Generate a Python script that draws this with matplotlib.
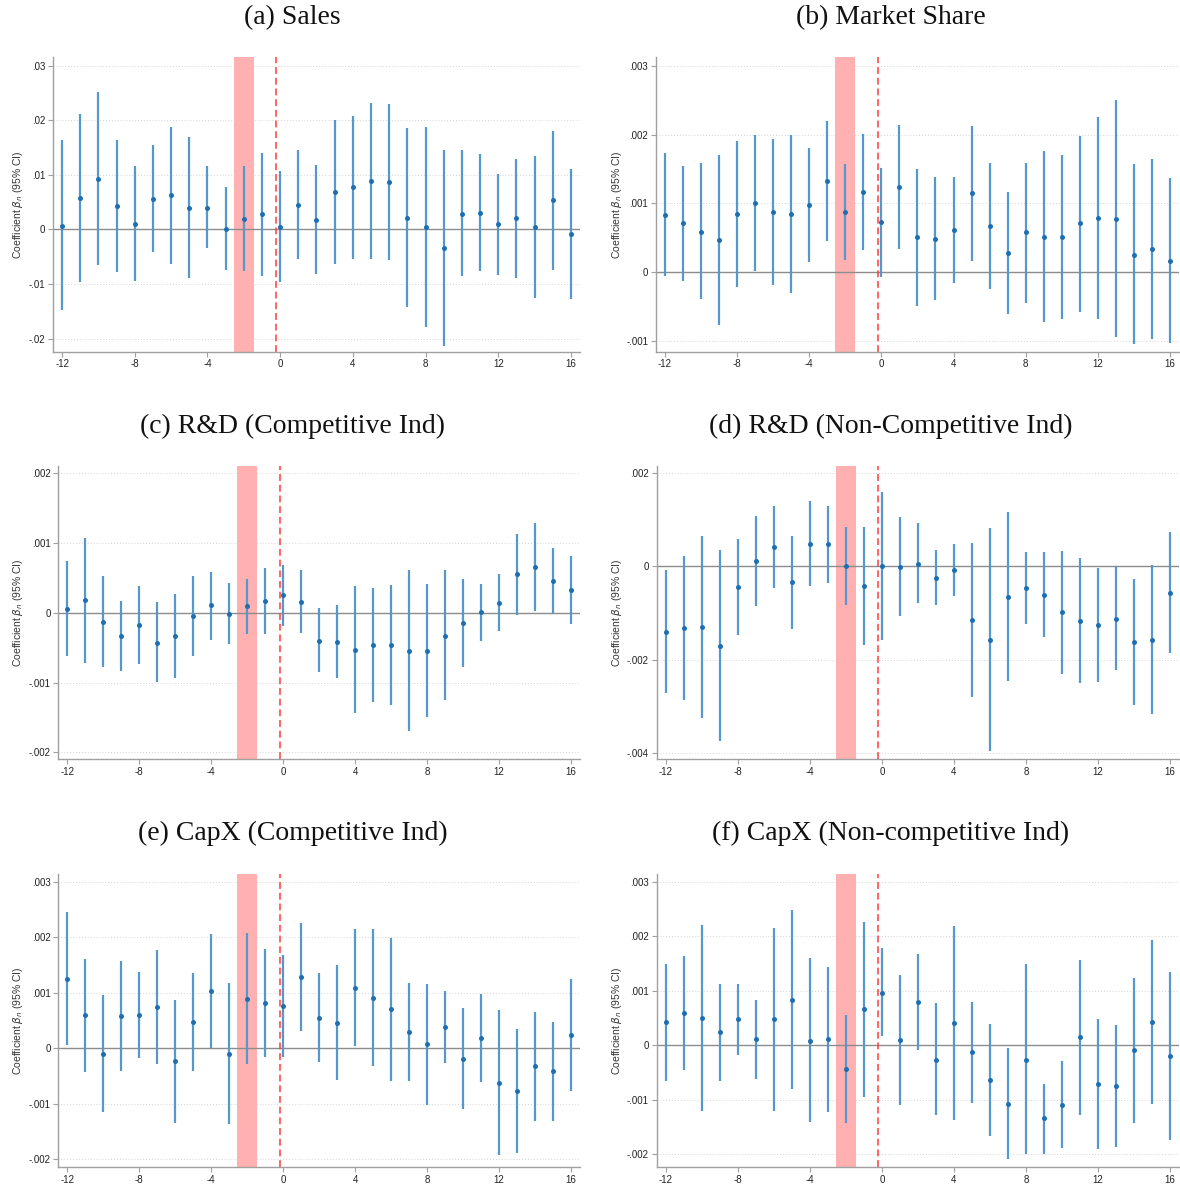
import numpy as np
import matplotlib
matplotlib.use('Agg')
import matplotlib.pyplot as plt


plt.rcParams['font.family'] = ['Liberation Sans', 'DejaVu Sans']
plt.rcParams['mathtext.fontset'] = 'dejavusans'

periods = list(range(-12, 17))
xtick_vals = [-12, -8, -4, 0, 4, 8, 12, 16]

# (a) Sales
coef_a = [0.0007, 0.0057, 0.0093, 0.0042, 0.0010, 0.0056, 0.0063, 0.0040, 0.0040, 0.0000,
          0.0019, 0.0028, 0.0005, 0.0045, 0.0018, 0.0069, 0.0077, 0.0088, 0.0087, 0.0021,
          0.0004, -0.0034, 0.0029, 0.0030, 0.0009, 0.0020, 0.0004, 0.0053, -0.0009]
hi_a = [0.0163, 0.0212, 0.0252, 0.0163, 0.0116, 0.0154, 0.0188, 0.0170, 0.0116, 0.0077,
        0.0116, 0.0140, 0.0107, 0.0146, 0.0117, 0.0201, 0.0208, 0.0231, 0.0229, 0.0185,
        0.0187, 0.0145, 0.0145, 0.0138, 0.0101, 0.0129, 0.0134, 0.0180, 0.0110]
lo_a = [-0.0147, -0.0097, -0.0066, -0.0078, -0.0095, -0.0041, -0.0063, -0.0089, -0.0035, -0.0075,
        -0.0077, -0.0085, -0.0096, -0.0055, -0.0081, -0.0063, -0.0054, -0.0055, -0.0056, -0.0143,
        -0.0179, -0.0214, -0.0086, -0.0077, -0.0083, -0.0089, -0.0126, -0.0074, -0.0128]

# (b) Market Share
coef_b = [0.00084, 0.00072, 0.00059, 0.00047, 0.00085, 0.00101, 0.00087, 0.00085, 0.00098, 0.00132,
          0.00088, 0.00116, 0.00073, 0.00124, 0.00051, 0.00049, 0.00061, 0.00115, 0.00068, 0.00028,
          0.00058, 0.00052, 0.00052, 0.00071, 0.00079, 0.00078, 0.00026, 0.00034, 0.00017]
hi_b = [0.00173, 0.00155, 0.00159, 0.00171, 0.00191, 0.00199, 0.00193, 0.00199, 0.00180, 0.00219,
        0.00158, 0.00201, 0.00151, 0.00214, 0.00150, 0.00139, 0.00138, 0.00212, 0.00159, 0.00116,
        0.00159, 0.00176, 0.00170, 0.00198, 0.00226, 0.00250, 0.00157, 0.00164, 0.00137]
lo_b = [-0.00005, -0.00012, -0.00039, -0.00076, -0.00021, 0.00002, -0.00018, -0.00030, 0.00015, 0.00045,
        0.00018, 0.00032, -0.00007, 0.00034, -0.00049, -0.00040, -0.00015, 0.00017, -0.00024, -0.00061,
        -0.00045, -0.00072, -0.00067, -0.00057, -0.00067, -0.00094, -0.00104, -0.00096, -0.00102]

# (c) R&D, competitive industries
coef_c = [0.00006, 0.00018, -0.00013, -0.00033, -0.00017, -0.00043, -0.00033, -0.00004, 0.00011, -0.00001,
          0.00010, 0.00017, 0.00025, 0.00016, -0.00040, -0.00042, -0.00053, -0.00046, -0.00046, -0.00055,
          -0.00054, -0.00033, -0.00014, 0.00001, 0.00014, 0.00055, 0.00066, 0.00045, 0.00033]
hi_c = [0.00074, 0.00107, 0.00053, 0.00017, 0.00038, 0.00015, 0.00027, 0.00053, 0.00059, 0.00043,
        0.00049, 0.00064, 0.00069, 0.00061, 0.00007, 0.00011, 0.00038, 0.00036, 0.00040, 0.00061,
        0.00042, 0.00061, 0.00049, 0.00042, 0.00055, 0.00113, 0.00129, 0.00093, 0.00081]
lo_c = [-0.00062, -0.00072, -0.00078, -0.00083, -0.00073, -0.00099, -0.00094, -0.00062, -0.00039, -0.00044,
        -0.00030, -0.00030, -0.00019, -0.00029, -0.00085, -0.00093, -0.00144, -0.00128, -0.00132, -0.00170,
        -0.00150, -0.00125, -0.00078, -0.00040, -0.00026, -0.00003, 0.00002, -0.00002, -0.00016]

# (d) R&D, non-competitive industries
coef_d = [-0.00140, -0.00133, -0.00131, -0.00170, -0.00044, 0.00011, 0.00041, -0.00034, 0.00049, 0.00047,
          0.00001, -0.00042, 0.00001, -0.00001, 0.00006, -0.00024, -0.00008, -0.00115, -0.00157, -0.00065,
          -0.00047, -0.00061, -0.00099, -0.00117, -0.00125, -0.00112, -0.00162, -0.00157, -0.00057]
hi_d = [-0.00008, 0.00022, 0.00065, 0.00034, 0.00058, 0.00107, 0.00130, 0.00065, 0.00140, 0.00129,
        0.00085, 0.00085, 0.00160, 0.00105, 0.00092, 0.00034, 0.00047, 0.00050, 0.00082, 0.00117,
        0.00030, 0.00030, 0.00033, 0.00017, -0.00003, -0.00001, -0.00028, 0.00003, 0.00073]
lo_d = [-0.00271, -0.00287, -0.00326, -0.00374, -0.00147, -0.00085, -0.00047, -0.00134, -0.00042, -0.00035,
        -0.00082, -0.00168, -0.00157, -0.00107, -0.00079, -0.00083, -0.00063, -0.00281, -0.00396, -0.00247,
        -0.00123, -0.00151, -0.00230, -0.00250, -0.00248, -0.00223, -0.00297, -0.00316, -0.00185]

# (e) CapX, competitive industries
coef_e = [0.00125, 0.00059, -0.00010, 0.00058, 0.00060, 0.00074, -0.00023, 0.00047, 0.00103, -0.00010,
          0.00089, 0.00081, 0.00075, 0.00128, 0.00055, 0.00046, 0.00108, 0.00091, 0.00070, 0.00029,
          0.00007, 0.00038, -0.00019, 0.00018, -0.00062, -0.00077, -0.00033, -0.00042, 0.00023]
hi_e = [0.00245, 0.00161, 0.00096, 0.00156, 0.00137, 0.00177, 0.00086, 0.00135, 0.00205, 0.00118,
        0.00208, 0.00179, 0.00168, 0.00225, 0.00135, 0.00149, 0.00214, 0.00214, 0.00199, 0.00118,
        0.00116, 0.00102, 0.00073, 0.00097, 0.00069, 0.00034, 0.00065, 0.00047, 0.00124]
lo_e = [0.00005, -0.00043, -0.00115, -0.00041, -0.00017, -0.00029, -0.00134, -0.00042, 0.00001, -0.00136,
        -0.00029, -0.00016, -0.00016, 0.00031, -0.00025, -0.00057, 0.00003, -0.00032, -0.00060, -0.00059,
        -0.00102, -0.00026, -0.00110, -0.00061, -0.00193, -0.00189, -0.00131, -0.00132, -0.00077]

# (f) CapX, non-competitive industries
coef_f = [0.00043, 0.00059, 0.00051, 0.00025, 0.00048, 0.00011, 0.00048, 0.00084, 0.00009, 0.00011,
          -0.00043, 0.00066, 0.00097, 0.00010, 0.00080, -0.00026, 0.00042, -0.00013, -0.00064, -0.00107,
          -0.00026, -0.00134, -0.00109, 0.00015, -0.00070, -0.00075, -0.00009, 0.00043, -0.00020]
hi_f = [0.00150, 0.00164, 0.00221, 0.00112, 0.00113, 0.00084, 0.00216, 0.00248, 0.00160, 0.00144,
        0.00056, 0.00226, 0.00178, 0.00130, 0.00167, 0.00078, 0.00220, 0.00080, 0.00039, -0.00004,
        0.00149, -0.00070, -0.00028, 0.00156, 0.00049, 0.00037, 0.00123, 0.00194, 0.00134]
lo_f = [-0.00065, -0.00046, -0.00120, -0.00065, -0.00018, -0.00062, -0.00120, -0.00080, -0.00141, -0.00122,
        -0.00142, -0.00094, 0.00017, -0.00109, -0.00009, -0.00128, -0.00137, -0.00106, -0.00166, -0.00208,
        -0.00200, -0.00199, -0.00189, -0.00127, -0.00190, -0.00187, -0.00142, -0.00107, -0.00174]

titles = ['(a) Sales', '(b) Market Share',
          '(c) R&D (Competitive Ind)', '(d) R&D (Non-Competitive Ind)',
          '(e) CapX (Competitive Ind)', '(f) CapX (Non-competitive Ind)']

yticks_a = [-0.02, -0.01, 0, 0.01, 0.02, 0.03]
ylabels_a = ['-.02', '-.01', '0', '.01', '.02', '.03']
yticks_b = [-0.001, 0, 0.001, 0.002, 0.003]
ylabels_b = ['-.001', '0', '.001', '.002', '.003']
yticks_c = [-0.002, -0.001, 0, 0.001, 0.002]
ylabels_c = ['-.002', '-.001', '0', '.001', '.002']
yticks_d = [-0.004, -0.002, 0, 0.002]
ylabels_d = ['-.004', '-.002', '0', '.002']
yticks_e = [-0.002, -0.001, 0, 0.001, 0.002, 0.003]
ylabels_e = ['-.002', '-.001', '0', '.001', '.002', '.003']
yticks_f = yticks_e
ylabels_f = ylabels_e


panels = [
  (coef_a, lo_a, hi_a, yticks_a, ylabels_a, (-0.0224, 0.0315), [0.0449, 0.7037, 0.4466, 0.2480], -0.054),
  (coef_b, lo_b, hi_b, yticks_b, ylabels_b, (-0.00115, 0.00312), [0.5559, 0.7037, 0.4432, 0.2480], -0.062),
  (coef_c, lo_c, hi_c, yticks_c, ylabels_c, (-0.0021, 0.00211), [0.0494, 0.3603, 0.4421, 0.2474], -0.064),
  (coef_d, lo_d, hi_d, yticks_d, ylabels_d, (-0.00414, 0.00216), [0.5565, 0.3603, 0.4427, 0.2474], -0.063),
  (coef_e, lo_e, hi_e, yticks_e, ylabels_e, (-0.00214, 0.00314), [0.0494, 0.0169, 0.4421, 0.2470], -0.064),
  (coef_f, lo_f, hi_f, yticks_f, ylabels_f, (-0.00223, 0.00315), [0.5565, 0.0169, 0.4427, 0.2470], -0.063),
]

title_pos = [(0.248, 0.9848), (0.755, 0.9848),
             (0.248, 0.6411), (0.755, 0.6411),
             (0.248, 0.2982), (0.755, 0.2982)]

axis_grey = '#a0a0a0'

fig = plt.figure(figsize=(11.8, 11.87), dpi=100)

for k, (coef, lo, hi, yt, yl, ylim, rect, labx) in enumerate(panels):
  ax = fig.add_axes(rect)
  coef = np.array(coef)
  err = [coef - np.array(lo), np.array(hi) - coef]

  ax.axvspan(-2.55, -1.45, color='#ffb1b1', lw=0, zorder=1)
  ax.axvline(-0.2, color='#ff3c3c', lw=1.1, dashes=(4.5, 2.5), zorder=2)
  for t in yt:
    if t != 0:
      ax.axhline(t, color='#d4d4d4', lw=0.7, ls=(0, (1, 2)), zorder=0)
  ax.axhline(0, color='#8c8c8c', lw=1.0, zorder=1.5)

  ax.errorbar(periods, coef, yerr=err, fmt='none', ecolor='#5598cd', elinewidth=1.6, capsize=0, zorder=3)
  ax.plot(periods, coef, 'o', color='#1f6fb0', markersize=3.6, markeredgewidth=0, zorder=4)

  ax.set_xlim(-12.5, 16.5)
  ax.set_ylim(*ylim)
  ax.set_xticks(xtick_vals)
  ax.set_xticklabels([str(v) for v in xtick_vals])
  ax.set_yticks(yt)
  ax.set_yticklabels(yl)
  ax.tick_params(labelsize=7, length=3.5, width=0.8, color=axis_grey, labelcolor='#222222', pad=2)

  for s in ['top', 'right']:
    ax.spines[s].set_visible(False)
  for s in ['left', 'bottom']:
    ax.spines[s].set_color(axis_grey)
    ax.spines[s].set_linewidth(1.0)

  ax.set_ylabel(r'Coefficient $\beta_n$ (95% CI)', fontsize=7.5, color='#333333')
  ax.yaxis.set_label_coords(labx, 0.5)

  fig.text(title_pos[k][0], title_pos[k][1], titles[k], ha='center', va='center',
           fontsize=20, family=['Liberation Serif', 'DejaVu Serif'], color='#111111')

plt.savefig('out.png', dpi=100)
